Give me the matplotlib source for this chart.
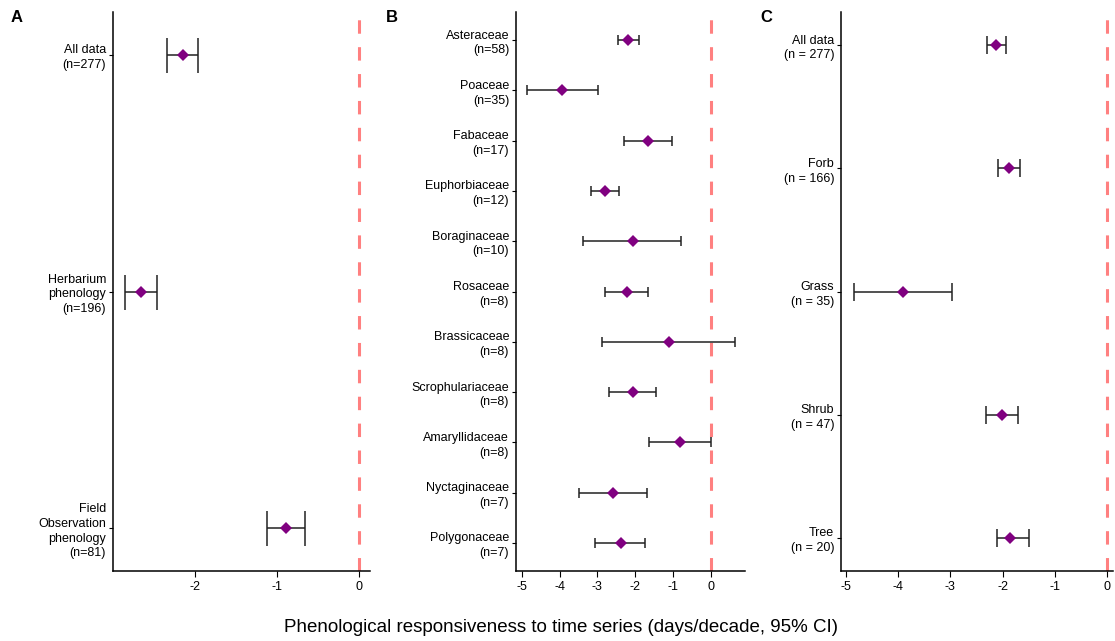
import matplotlib
matplotlib.use('Agg')
import matplotlib.pyplot as plt

plt.rcParams['font.family'] = ['Liberation Sans', 'DejaVu Sans']

# panel A - data source
a_labels = ['All data\n(n=277)', 'Herbarium\nphenology\n(n=196)', 'Field\nObservation\nphenology\n(n=81)']
a_mean = [-2.14, -2.65, -0.89]
a_low = [-2.33, -2.84, -1.12]
a_high = [-1.96, -2.46, -0.66]

# panel B - families
b_labels = ['Asteraceae\n(n=58)', 'Poaceae\n(n=35)', 'Fabaceae\n(n=17)', 'Euphorbiaceae\n(n=12)',
            'Boraginaceae\n(n=10)', 'Rosaceae\n(n=8)', 'Brassicaceae\n(n=8)', 'Scrophulariaceae\n(n=8)',
            'Amaryllidaceae\n(n=8)', 'Nyctaginaceae\n(n=7)', 'Polygonaceae\n(n=7)']
b_mean = [-2.20, -3.94, -1.67, -2.81, -2.07, -2.23, -1.11, -2.07, -0.81, -2.58, -2.38]
b_low = [-2.46, -4.87, -2.30, -3.18, -3.38, -2.79, -2.88, -2.70, -1.63, -3.48, -3.07]
b_high = [-1.90, -2.99, -1.03, -2.43, -0.79, -1.67, 0.64, -1.46, 0.0, -1.69, -1.75]

# panel C - growth form
c_labels = ['All data\n(n = 277)', 'Forb\n(n = 166)', 'Grass\n(n = 35)', 'Shrub\n(n = 47)', 'Tree\n(n = 20)']
c_mean = [-2.12, -1.87, -3.91, -2.01, -1.85]
c_low = [-2.30, -2.09, -4.84, -2.31, -2.10]
c_high = [-1.94, -1.66, -2.97, -1.71, -1.50]


def forest(ax, labels, mean, low, high, cap, xlim, ymargin, ticks):
    n = len(labels)
    ys = list(range(n))
    err = [[m - l for m, l in zip(mean, low)], [h - m for m, h in zip(mean, high)]]
    ax.axvline(0, color='#ff8080', lw=2.2, dashes=(4.4, 4.4), zorder=1)
    ax.errorbar(mean, ys, xerr=err, fmt='none', ecolor='#222222', elinewidth=1.1,
                capsize=cap, capthick=1.1, zorder=2)
    ax.plot(mean, ys, 'D', color='#800080', markersize=6, markeredgewidth=0, zorder=3)
    ax.set_yticks(ys)
    ax.set_yticklabels(labels, fontsize=9, ha='right', linespacing=1.3)
    ax.set_ylim(n - 1 + ymargin, -ymargin)
    ax.set_xlim(*xlim)
    ax.set_xticks(ticks)
    ax.set_xticklabels([str(t) if t == 0 else '-' + str(-t) for t in ticks], fontsize=9)
    for s in ['top', 'right']:
        ax.spines[s].set_visible(False)
    for s in ['left', 'bottom']:
        ax.spines[s].set_linewidth(1.1)
    ax.tick_params(axis='y', length=3, width=0.8, pad=2)
    ax.tick_params(axis='x', length=4, width=0.8, pad=3)


fig = plt.figure(figsize=(11.15, 6.41), dpi=100)
bottom = 70 / 641
height = 559 / 641
axA = fig.add_axes([113 / 1115, bottom, 257 / 1115, height])
axB = fig.add_axes([516 / 1115, bottom, 229 / 1115, height])
axC = fig.add_axes([841 / 1115, bottom, 272 / 1115, height])

forest(axA, a_labels, a_mean, a_low, a_high, 12.6, (-2.99, 0.13), 0.18, [-2, -1, 0])
forest(axB, b_labels, b_mean, b_low, b_high, 3.3, (-5.15, 0.90), 0.56, [-5, -4, -3, -2, -1, 0])
forest(axC, c_labels, c_mean, c_low, c_high, 6.5, (-5.09, 0.11), 0.27, [-5, -4, -3, -2, -1, 0])

fig.text(11 / 1115, 1 - 18 / 641, 'A', fontsize=12, fontweight='bold', va='center')
fig.text(386 / 1115, 1 - 18 / 641, 'B', fontsize=12, fontweight='bold', va='center')
fig.text(760 / 1115, 1 - 18 / 641, 'C', fontsize=12, fontweight='bold', va='center')

fig.text(0.503, 1 - 628 / 641, 'Phenological responsiveness to time series (days/decade, 95% CI)',
         fontsize=13.5, ha='center', va='center')

fig.savefig('out.png', dpi=100)
